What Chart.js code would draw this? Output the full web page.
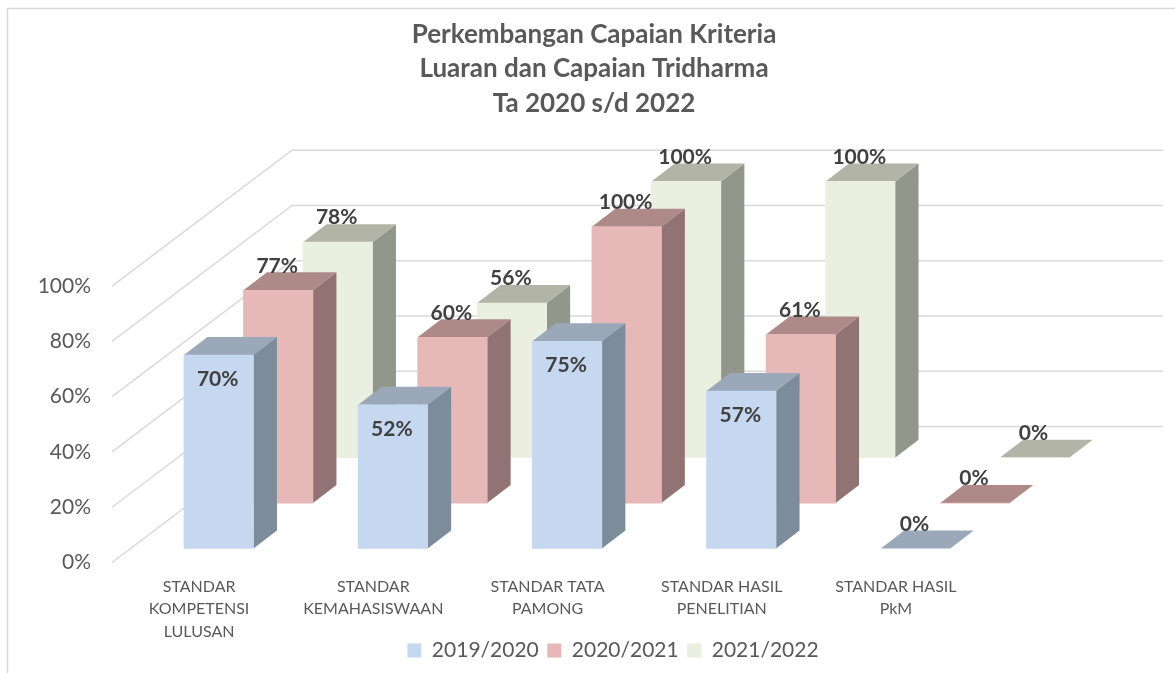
<!DOCTYPE html>
<html lang="id">
<head>
<meta charset="utf-8">
<title>Perkembangan Capaian Kriteria</title>
<script src="https://cdn.jsdelivr.net/npm/chart.js@4/dist/chart.umd.min.js"></script>
<style>
    html, body { margin: 0; padding: 0; background: #fff; }
    #wrap { position: relative; width: 1175px; height: 673px; overflow: hidden; }
</style>
</head>
<body>
<div id="wrap"><canvas id="chart" width="1175" height="673"></canvas></div>
<script>
const titleLines = ['Perkembangan Capaian Kriteria', 'Luaran dan Capaian Tridharma', 'Ta 2020 s/d 2022'];
const categories = [
    ['STANDAR', 'KOMPETENSI', 'LULUSAN'],
    ['STANDAR', 'KEMAHASISWAAN'],
    ['STANDAR TATA', 'PAMONG'],
    ['STANDAR HASIL', 'PENELITIAN'],
    ['STANDAR HASIL', 'PkM'],
];
const seriesNames = ['2019/2020', '2020/2021', '2021/2022'];
const values2019 = [70, 52, 75, 57, 0];
const values2020 = [77, 60, 100, 61, 0];
const values2021 = [78, 56, 100, 100, 0];

const FONT = "Lato, 'Open Sans', sans-serif";
const TEXT = '#595959';
const GRID = '#D9D9D9';

// warna tiap seri: depan, atas, samping
const FACES = [
    { front: '#C6D8F0', top: '#9AA8BA', side: '#7D8C9A' },
    { front: '#E7B8B8', top: '#AD8A87', side: '#927373' },
    { front: '#E9F0E0', top: '#B2B5A6', side: '#93968A' },
];

// kedalaman 3D (px): dinding belakang, batang, dan geser antar seri
const WALL = { dx: 180, dy: -136 };
const BAR_DEPTH = { dx: 23.5, dy: -18 };
const seriesShift = i => ({ dx: 19.6 + 59.5 * i, dy: -14 - 45.4 * i });

function poly(ctx, pts, color) {
    ctx.beginPath();
    pts.forEach((p, i) => (i ? ctx.lineTo(p[0], p[1]) : ctx.moveTo(p[0], p[1])));
    ctx.closePath();
    ctx.fillStyle = color;
    ctx.fill();
}

const frame3d = {
    id: 'frame3d',
    afterLayout(chart) {
        // judul dan legenda tidak persis di tengah kanvas
        chart.titleBlock.left += 102.5;
        chart.titleBlock.right += 102.5;
        chart.legend.left += 121.5;
        chart.legend.right += 121.5;
        // label sumbu x boleh melewati kotak skala (dipotong di scale.bottom)
        chart.scales.x.bottom += 24;
    },
    beforeDraw(chart) {
        const ctx = chart.ctx;
        ctx.save();
        ctx.strokeStyle = GRID;
        ctx.lineWidth = 1.5;
        ctx.beginPath();
        ctx.moveTo(7.5, 673);
        ctx.lineTo(7.5, 8.5);
        ctx.lineTo(1175, 8.5);
        ctx.stroke();
        ctx.restore();
    },
    beforeDatasetsDraw(chart) {
        const ctx = chart.ctx;
        const { left, right } = chart.chartArea;
        const yScale = chart.scales.y;
        ctx.save();
        ctx.strokeStyle = GRID;
        ctx.lineWidth = 1.5;
        yScale.ticks.forEach(t => {
            const y = yScale.getPixelForValue(t.value);
            ctx.beginPath();
            ctx.moveTo(left, y);
            ctx.lineTo(left + WALL.dx, y + WALL.dy);
            ctx.lineTo(right + WALL.dx, y + WALL.dy);
            ctx.stroke();
        });
        ctx.restore();
    },
    beforeDatasetDraw(chart, args) {
        const ctx = chart.ctx;
        const s = seriesShift(args.index);
        const c = FACES[args.index];
        const { dx, dy } = BAR_DEPTH;
        ctx.save();
        ctx.translate(s.dx, s.dy);
        args.meta.data.forEach(bar => {
            const l = bar.x - bar.width / 2;
            const r = bar.x + bar.width / 2;
            poly(ctx, [[r, bar.y], [r + dx, bar.y + dy], [r + dx, bar.base + dy], [r, bar.base]], c.side);
            poly(ctx, [[l, bar.y], [l + dx, bar.y + dy], [r + dx, bar.y + dy], [r, bar.y]], c.top);
        });
    },
    afterDatasetDraw(chart) {
        chart.ctx.restore();
    },
    afterDatasetsDraw(chart) {
        const ctx = chart.ctx;
        ctx.save();
        ctx.font = 'bold 21px ' + FONT;
        ctx.fillStyle = '#404040';
        ctx.textAlign = 'center';
        ctx.textBaseline = 'middle';
        chart.data.datasets.forEach((ds, i) => {
            const s = seriesShift(i);
            chart.getDatasetMeta(i).data.forEach((bar, j) => {
                const v = ds.data[j];
                const off = (i === 0 && v > 0) ? 24 : -24.5;
                ctx.fillText(v + '%', bar.x + s.dx - 1, bar.y + s.dy + off);
            });
        });
        ctx.restore();
    },
};

new Chart(document.getElementById('chart'), {
    type: 'bar',
    data: {
        labels: categories,
        datasets: [values2019, values2020, values2021].map((vals, i) => ({
            label: seriesNames[i],
            data: vals,
            backgroundColor: FACES[i].front,
            borderWidth: 0,
            barThickness: 69.5,
            clip: false,
        })),
    },
    options: {
        responsive: false,
        animation: false,
        layout: { padding: { left: 0, right: 192, top: 0, bottom: 2 } },
        plugins: {
            title: {
                display: true,
                text: titleLines,
                color: TEXT,
                font: { family: FONT, size: 26, weight: 'bold', lineHeight: 1.31 },
                padding: { top: 18, bottom: 166 },
            },
            legend: {
                position: 'bottom',
                labels: {
                    color: TEXT,
                    font: { family: FONT, size: 21 },
                    boxWidth: 14,
                    boxHeight: 14,
                    padding: 8.5,
                },
            },
            tooltip: { enabled: false },
        },
        scales: {
            x: {
                stacked: true,
                grid: { display: false, drawTicks: false },
                border: { display: false },
                afterFit: s => { s.height = 69; },
                ticks: {
                    color: TEXT,
                    font: { family: FONT, size: 16, lineHeight: 1.4 },
                    maxRotation: 0,
                    minRotation: 0,
                    autoSkip: false,
                    padding: 13,
                },
            },
            y: {
                min: 0,
                max: 100,
                grid: { display: false, drawTicks: false },
                border: { display: false },
                afterFit: s => { s.width = 112; },
                ticks: {
                    stepSize: 20,
                    color: TEXT,
                    font: { family: FONT, size: 21 },
                    padding: 21,
                    callback: v => v + '%',
                },
            },
        },
    },
    plugins: [frame3d],
});
</script>
</body>
</html>
